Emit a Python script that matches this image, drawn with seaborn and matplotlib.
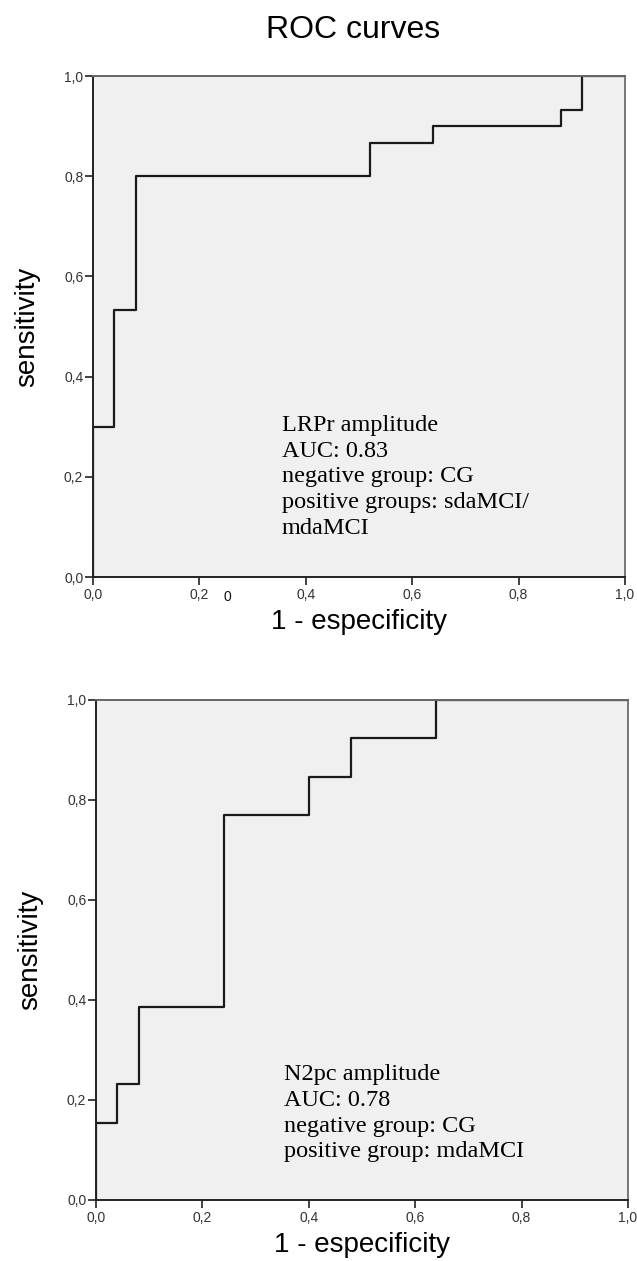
import matplotlib
matplotlib.use("Agg")
import matplotlib.pyplot as plt
import seaborn as sns
import pandas as pd

## --- ROC data (steps: 1 - specificity, sensitivity)
lrpr_fpr = [0.0, 0.0, 0.04, 0.08, 0.52, 0.64, 0.88, 0.92, 1.0]
lrpr_tpr = [0.0, 0.30, 0.533, 0.80, 0.867, 0.90, 0.933, 1.0, 1.0]

n2pc_fpr = [0.0, 0.0, 0.04, 0.08, 0.24, 0.40, 0.48, 0.64, 1.0]
n2pc_tpr = [0.0, 0.154, 0.231, 0.385, 0.769, 0.846, 0.923, 1.0, 1.0]

lrpr_text = "LRPr amplitude\nAUC: 0.83\nnegative group: CG\npositive groups: sdaMCI/\nmdaMCI"
n2pc_text = "N2pc amplitude\nAUC: 0.78\nnegative group: CG\npositive group: mdaMCI"

ticks = [0.0, 0.2, 0.4, 0.6, 0.8, 1.0]
tick_labels = ["0,0", "0,2", "0,4", "0,6", "0,8", "1,0"]

sns.set_theme(style="ticks")
plt.rcParams['font.family'] = ['Liberation Sans', 'DejaVu Sans']
plt.rcParams['text.color'] = 'black'
plt.rcParams['axes.labelcolor'] = 'black'

fig = plt.figure(figsize=(6.37, 12.61), dpi=100)
ax1 = fig.add_axes([0.146, 0.5424, 0.835, 0.3973])
ax2 = fig.add_axes([0.1507, 0.0484, 0.835, 0.3965])


def roc_panel(ax, fpr, tpr, note, note_x, note_y):
    df = pd.DataFrame({"fpr": fpr, "tpr": tpr})
    sns.lineplot(data=df, x="fpr", y="tpr", ax=ax, sort=False, estimator=None,
                 drawstyle="steps-post", color="#1a1a1a", linewidth=1.6)
    ax.set_facecolor("#f0f0f0")
    ax.set_xlim(0, 1)
    ax.set_ylim(0, 1)
    ax.set_xticks(ticks)
    ax.set_yticks(ticks)
    ax.set_xticklabels(tick_labels, fontsize=10, color="#333333")
    ax.set_yticklabels(tick_labels, fontsize=10, color="#333333")
    ax.tick_params(direction="out", length=5.5, width=1.3, color="#333333", pad=1.5)
    ax.tick_params(axis="x", pad=2.5)
    ax.spines["left"].set_color("#222222")
    ax.spines["bottom"].set_color("#222222")
    ax.spines["top"].set_color("#666666")
    ax.spines["right"].set_color("#777777")
    for s in ax.spines.values():
        s.set_linewidth(1.4)
    ax.set_xlabel("1 - especificity", fontsize=20, labelpad=5)
    ax.set_ylabel("sensitivity", fontsize=20, labelpad=17)
    ax.text(note_x, note_y, note, transform=ax.transAxes, va="top", ha="left",
            family="Liberation Serif", fontsize=17.5, linespacing=1.3)


roc_panel(ax1, lrpr_fpr, lrpr_tpr, lrpr_text, 0.355, 0.324)
roc_panel(ax2, n2pc_fpr, n2pc_tpr, n2pc_text, 0.353, 0.272)

## --- stray '0' in the first panel's tick row
ax1.text(0.252, -0.040, "0", transform=ax1.transAxes, ha="center", va="center",
         fontsize=10, color="#111111")

fig.text(0.555, 0.976, "ROC curves", ha="center", va="center", fontsize=23)

fig.savefig("out.png", dpi=100)
